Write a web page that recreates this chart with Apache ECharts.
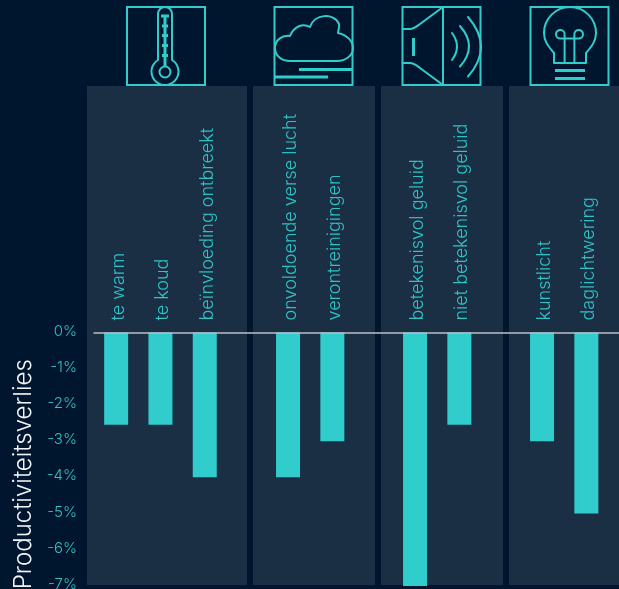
<!DOCTYPE html>
<html><head><meta charset="utf-8">
<script src="https://cdn.jsdelivr.net/npm/echarts@6/dist/echarts.min.js"></script>
<style>html,body{margin:0;padding:0;background:#00162e;overflow:hidden}#c{width:619px;height:589px}</style>
</head><body><div id="c"></div>
<script>
const tempCategories = ['te warm', 'te koud', 'beïnvloeding ontbreekt'];
const tempValues = [-2.55, -2.55, -4];
const airCategories = ['onvoldoende verse lucht', 'verontreinigingen'];
const airValues = [-4, -3];
const soundCategories = ['betekenisvol geluid', 'niet betekenisvol geluid'];
const soundValues = [-7, -2.55];
const lightCategories = ['kunstlicht', 'daglichtwering'];
const lightValues = [-3, -5];
const yTitle = 'Productiviteitsverlies';

const TEAL = '#31cdcd', LABEL = '#2fc2c6', PANEL = '#1a2e44', BG = '#00162e';
const groups = [
  {cats: tempCategories, vals: tempValues, left: 94, width: 132.9},
  {cats: airCategories, vals: airValues, left: 265.9, width: 88.6},
  {cats: soundCategories, vals: soundValues, left: 392.9, width: 88.6},
  {cats: lightCategories, vals: lightValues, left: 519.9, width: 88.6}
];
const TOP = 332.5, H = 253.5;
const fontFamily = 'Inter';

const grid = [{left: 94, right: 0, top: TOP, height: H, outerBoundsMode: 'none'}];
const xAxis = [{gridIndex: 0, type: 'category', data: [''], position: 'top',
  axisLine: {show: true, lineStyle: {color: '#b9c0c6', width: 1.5}}, axisTick: {show: false}, axisLabel: {show: false}, z: 5}];
const yAxis = [{gridIndex: 0, type: 'value', min: -7, max: 0, interval: 1,
  splitLine: {show: false}, axisLine: {show: false}, axisTick: {show: false},
  axisLabel: {color: LABEL, fontFamily: fontFamily, fontWeight: 300, fontSize: 15, margin: 17, verticalAlign: 'bottom', lineHeight: 3, formatter: '{value}%'},
  name: yTitle, nameLocation: 'middle', nameGap: 58, nameRotate: 90,
  nameTextStyle: {color: '#f2f5f7', fontFamily: fontFamily, fontWeight: 300, fontSize: 24, padding: [0, 30, 0, 0]}}];
const series = [];
groups.forEach((g, i) => {
  const n = i + 1;
  grid.push({left: g.left, width: g.width, top: TOP, height: H, outerBoundsMode: 'none'});
  xAxis.push({gridIndex: n, type: 'category', data: g.cats, position: 'top',
    axisLine: {show: false}, axisTick: {show: false},
    axisLabel: {rotate: 90, color: LABEL, fontFamily: fontFamily, fontWeight: 300, fontSize: 18, margin: 12, interval: 0, verticalAlign: 'top', lineHeight: 5}});
  yAxis.push({gridIndex: n, type: 'value', min: -7, max: 0, interval: 1, show: false, splitLine: {show: false}});
  series.push({type: 'bar', xAxisIndex: n, yAxisIndex: n, data: g.vals, barWidth: 24,
    itemStyle: {color: TEAL}, silent: true, animation: false, z: 3});
});

const rect = (x, w) => ({type: 'rect', z: -10, silent: true, shape: {x: x, y: 86, width: w, height: 499}, style: {fill: PANEL}});
const line = {stroke: TEAL, lineWidth: 2, fill: 'none', lineCap: 'round', lineJoin: 'round'};
const thick = {stroke: TEAL, lineWidth: 3, fill: 'none'};
let shapeCount = 0;
const p = (d, s) => {
  const name = 'icon' + (shapeCount++);
  echarts.graphic.registerShape(name, echarts.graphic.extendPath(d));
  return {type: name, z: 10, silent: true, style: Object.assign({}, s || line)};
};
const box = (x) => p('M' + x + ' 7H' + (x + 78) + 'V85H' + x + 'Z', Object.assign({}, line, {lineCap: 'butt', lineJoin: 'miter'}));
const icons = [
  box(127), box(274.5), box(402.5), box(530.5),
  // thermometer
  p('M158 60V14A7 7 0 0 1 172 14V60A13.5 13.5 0 1 1 158 60Z'),
  p('M165 77.5A5.5 5.5 0 1 0 165 66.5A5.5 5.5 0 1 0 165 77.5Z'),
  p('M165 16V66M161 16H169M162 26H168M162 35.5H168M162 45.5H168M162 55.5H168', thick),
  // cloud
  p('M290 36C294 26 303 23 310 27C314 14 334 12 339 24C340 27 338 30 338 33C347 35 353 41 353 48C353 56 345 61 337 61H290C282 61 275 56 275 48C275 40 282 35 290 36Z'),
  p('M299 69.5H353M275 77H328', thick),
  // speaker
  p('M443 7V85M402.5 29H410C414 29 416 27 420 24L443 7M402.5 63H410C414 63 416 65 420 68L443 85'),
  p('M413.5 38V56', thick),
  p('M452 33Q462 46.5 452 60M460 26Q478 46.5 460 66.5M468 17Q494 47 468 76.5'),
  // lamp
  p('M554 53C548 46 544 41 544 33A26 26 0 0 1 596 33C596 41 592 46 586 53V63H554Z'),
  p('M560 38.5A4.3 4.3 0 1 1 564.6 34.5V63M579 38.5A4.3 4.3 0 1 0 574.4 34.5V63M560 38.5H579'),
  p('M555 70.5H585M555 78.5H585', thick)
];

const chart = echarts.init(document.getElementById('c'), null, {renderer: 'canvas'});
chart.setOption({
  animation: false, backgroundColor: BG, grid, xAxis, yAxis, series,
  graphic: [rect(87, 160), rect(253, 122), rect(381, 122), rect(509, 110)].concat(icons)
});
</script></body></html>
